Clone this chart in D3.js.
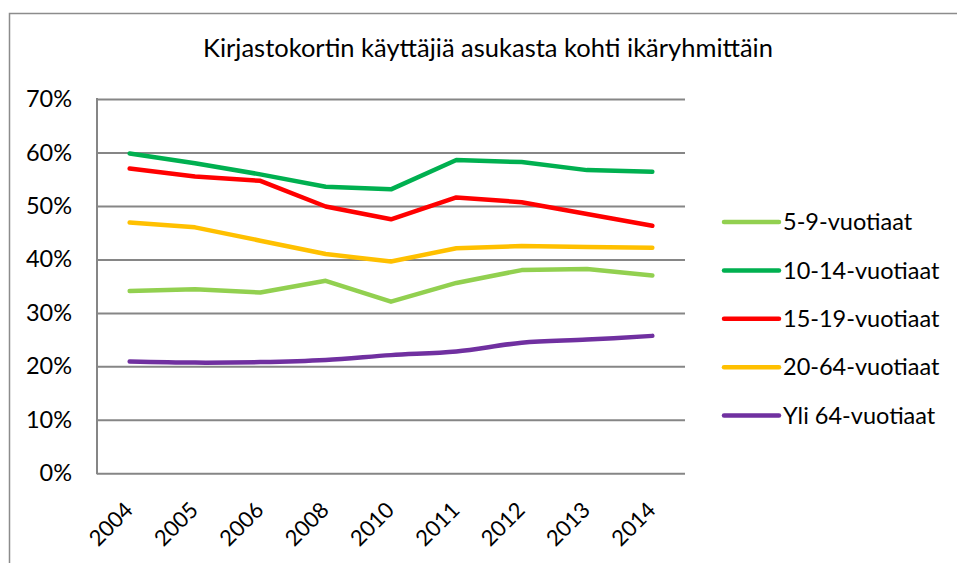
<!DOCTYPE html>
<html>
<head>
<meta charset="utf-8">
<script src="https://cdn.jsdelivr.net/npm/d3@7"></script>
<style>
  body { margin: 0; background: #fff; }
  text { font-family: Lato, "Open Sans", sans-serif; fill: #000; }
</style>
</head>
<body>
<div id="chart"></div>
<script>
const years = ['2004', '2005', '2006', '2008', '2010', '2011', '2012', '2013', '2014']
const yTicks = [0, 0.1, 0.2, 0.3, 0.4, 0.5, 0.6, 0.7]

const age5to9 = [0.341, 0.344, 0.338, 0.360, 0.321, 0.356, 0.380, 0.382, 0.370]
const age10to14 = [0.598, 0.580, 0.559, 0.536, 0.531, 0.586, 0.582, 0.567, 0.564]
const age15to19 = [0.570, 0.555, 0.547, 0.499, 0.475, 0.516, 0.507, 0.485, 0.463]
const age20to64 = [0.469, 0.460, 0.435, 0.410, 0.396, 0.421, 0.425, 0.423, 0.422]
const over64 = [0.209, 0.207, 0.208, 0.212, 0.221, 0.228, 0.244, 0.250, 0.257]

const series = [
  { name: '5-9-vuotiaat', values: age5to9, color: '#92D050' },
  { name: '10-14-vuotiaat', values: age10to14, color: '#00B050' },
  { name: '15-19-vuotiaat', values: age15to19, color: '#FF0000' },
  { name: '20-64-vuotiaat', values: age20to64, color: '#FFC000' },
  { name: 'Yli 64-vuotiaat', values: over64, color: '#7030A0', smooth: true }
]

const width = 957, height = 563
const plot = { left: 97, right: 685, top: 99, bottom: 473.3 }

let svg = d3.select('#chart').append('svg')
  .attr('width', width)
  .attr('height', height)

// chart border (runs off the right and bottom edge)
svg.append('rect')
  .attr('x', 9.5).attr('y', 13.5)
  .attr('width', 1000).attr('height', 600)
  .attr('fill', 'none')
  .attr('stroke', '#8c8c8c')
  .attr('stroke-width', 1.5)

svg.append('text')
  .attr('x', 488).attr('y', 57)
  .attr('text-anchor', 'middle')
  .attr('font-size', 25.5)
  .text('Kirjastokortin käyttäjiä asukasta kohti ikäryhmittäin')

let x = d3.scalePoint()
  .domain(years)
  .range([plot.left, plot.right])
  .padding(0.5)

let y = d3.scaleLinear()
  .domain([0, 0.7])
  .range([plot.bottom, plot.top])

// gridlines + y labels
svg.append('g')
  .attr('transform', `translate(${plot.left},0)`)
  .call(d3.axisLeft(y)
    .tickValues(yTicks)
    .tickSize(-(plot.right - plot.left))
    .tickPadding(25)
    .tickFormat(d3.format('.0%')))
  .call(g => g.select('.domain').remove())
  .call(g => g.selectAll('.tick line')
    .attr('stroke', '#868686')
    .attr('stroke-width', 2))
  .call(g => g.selectAll('.tick text')
    .attr('font-size', 23.5)
    .attr('font-family', 'Lato, sans-serif'))

// y axis line
svg.append('line')
  .attr('x1', plot.left).attr('x2', plot.left)
  .attr('y1', plot.top - 1).attr('y2', plot.bottom + 1)
  .attr('stroke', '#868686')
  .attr('stroke-width', 2)

// x labels
svg.append('g')
  .attr('transform', `translate(0,${plot.bottom})`)
  .call(d3.axisBottom(x).tickSize(0))
  .call(g => g.select('.domain').remove())
  .call(g => g.selectAll('.tick text')
    .attr('font-size', 22)
    .attr('font-family', 'Lato, sans-serif')
    .attr('text-anchor', 'end')
    .attr('dy', 0)
    .attr('transform', 'translate(2,36) rotate(-45)'))

// series lines
series.forEach(s => {
  let line = d3.line()
    .x((d, i) => x(years[i]))
    .y(d => y(d))
    .curve(s.smooth ? d3.curveCatmullRom.alpha(0.5) : d3.curveLinear)

  svg.append('path')
    .datum(s.values)
    .attr('d', line)
    .attr('fill', 'none')
    .attr('stroke', s.color)
    .attr('stroke-width', 4.5)
    .attr('stroke-linecap', 'round')
    .attr('stroke-linejoin', 'round')
})

// legend
let legend = svg.append('g')
  .attr('transform', 'translate(724,222)')

let items = legend.selectAll('.item').data(series)
  .enter().append('g')
  .attr('class', 'item')
  .attr('transform', (d, i) => `translate(0, ${i * 48.4})`)

items.append('line')
  .attr('x1', 0).attr('x2', 55)
  .attr('stroke', d => d.color)
  .attr('stroke-width', 4.5)
  .attr('stroke-linecap', 'round')

items.append('text')
  .attr('x', 59)
  .attr('dy', '0.35em')
  .attr('font-size', 23.5)
  .text(d => d.name)
</script>
</body>
</html>
